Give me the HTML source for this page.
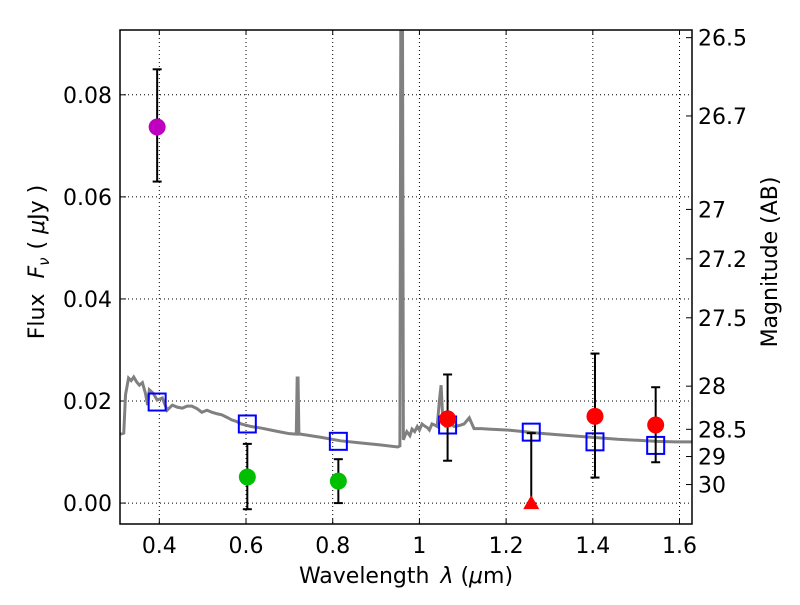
<!DOCTYPE html>
<html><head><meta charset="utf-8"><style>
body{margin:0;background:#fff}
svg text{font-family:"DejaVu Sans","Liberation Sans",sans-serif;fill:#000}
</style></head><body>
<svg id="c" width="800" height="600"></svg>
<script>
const specWave=[0.310,0.318,0.322,0.329,0.335,0.341,0.348,0.354,0.361,0.368,0.373,0.377,0.386,0.395,0.407,0.418,0.430,0.441,0.453,0.464,0.475,0.487,0.498,0.510,0.521,0.533,0.544,0.556,0.567,0.578,0.589,0.612,0.635,0.658,0.681,0.700,0.716,0.718,0.720,0.722,0.726,0.772,0.818,0.863,0.909,0.950,0.955,0.957,0.959,0.961,0.963,0.967,0.971,0.978,0.983,0.989,0.995,1.000,1.006,1.012,1.018,1.023,1.029,1.035,1.041,1.046,1.050,1.053,1.056,1.060,1.070,1.080,1.092,1.103,1.115,1.126,1.143,1.160,1.206,1.240,1.274,1.320,1.366,1.412,1.457,1.503,1.548,1.590,1.630];
const specFlux=[0.0135,0.0137,0.0212,0.0245,0.0240,0.0247,0.0237,0.0231,0.0236,0.0215,0.0192,0.0222,0.0215,0.0202,0.0206,0.0182,0.0192,0.0188,0.0186,0.0190,0.0190,0.0185,0.0178,0.0182,0.0178,0.0175,0.0173,0.0168,0.0163,0.0160,0.0155,0.0150,0.0147,0.0143,0.0139,0.0136,0.0135,0.0245,0.0245,0.0135,0.0135,0.0129,0.0122,0.0118,0.0114,0.0110,0.0112,0.0930,0.0930,0.0930,0.0124,0.0133,0.0140,0.0132,0.0145,0.0140,0.0150,0.0143,0.0155,0.0151,0.0148,0.0143,0.0155,0.0153,0.0150,0.0200,0.0231,0.0180,0.0155,0.0151,0.0158,0.0150,0.0152,0.0155,0.0167,0.0146,0.0146,0.0145,0.0143,0.0140,0.0137,0.0134,0.0131,0.0128,0.0125,0.0123,0.0121,0.0120,0.0120];
const obsWave=[0.395,0.603,0.813,1.065,1.405,1.545];
const obsFlux=[0.0737,0.0051,0.0043,0.0165,0.0170,0.0153];
const obsLo=[0.0630,-0.0012,0.0000,0.0083,0.0050,0.0080];
const obsHi=[0.0850,0.0116,0.0086,0.0252,0.0293,0.0227];
const obsColor=["#bf00bf","#00bf00","#00bf00","#ff0000","#ff0000","#ff0000"];
const limWave=[1.258];const limFlux=[0.0];const limHi=[0.0137];
const modWave=[0.395,0.603,0.813,1.065,1.258,1.405,1.545];
const modFlux=[0.0198,0.0155,0.0121,0.0153,0.0139,0.0120,0.0113];
const xTicks=[0.4,0.6,0.8,1.0,1.2,1.4,1.6];
const xLabels=["0.4","0.6","0.8","1","1.2","1.4","1.6"];
const yTicks=[0,0.02,0.04,0.06,0.08];
const yLabels=["0.00","0.02","0.04","0.06","0.08"];
const magTicks=[26.5,26.7,27,27.2,27.5,28,28.5,29,30];
const magLabels=["26.5","26.7","27","27.2","27.5","28","28.5","29","30"];

const L=120,R=692,T=30,B=524;
const x0=0.3093,x1=1.6288,y0=-0.0041,y1=0.0927;
const X=v=>L+(v-x0)/(x1-x0)*(R-L);
const Y=v=>B-(v-y0)/(y1-y0)*(B-T);
const svg=document.getElementById('c');
const NS='http://www.w3.org/2000/svg';
function mk(t,a,p){const e=document.createElementNS(NS,t);for(const k in a)e.setAttribute(k,a[k]);(p||svg).appendChild(e);return e;}
const clip=mk('clipPath',{id:'cp'});mk('rect',{x:L,y:T,width:R-L,height:B-T},clip);
xTicks.forEach((v,i)=>{
 let g=mk('line',{x1:X(v),x2:X(v),y1:T,y2:B,stroke:'#000','stroke-width':1,'stroke-dasharray':'1,3'});
 
 mk('line',{x1:X(v),x2:X(v),y1:B,y2:B-5,stroke:'#000'});mk('line',{x1:X(v),x2:X(v),y1:T,y2:T+5,stroke:'#000'});
 let t=mk('text',{x:X(v),y:B+29,'text-anchor':'middle','font-size':22});t.textContent=xLabels[i];
 
});
yTicks.forEach((v,i)=>{
 let g=mk('line',{x1:L,x2:R,y1:Y(v),y2:Y(v),stroke:'#000','stroke-width':1,'stroke-dasharray':'1,3'});
 
 mk('line',{x1:L,x2:L+6,y1:Y(v),y2:Y(v),stroke:'#000'});
 let t=mk('text',{x:L-8,y:Y(v)+8,'text-anchor':'end','font-size':22});t.textContent=yLabels[i];
 
});
magTicks.forEach((m,i)=>{
 const f=Math.pow(10,(23.9-m)/2.5);
 mk('line',{x1:R,x2:R-6,y1:Y(f),y2:Y(f),stroke:'#000'});
 let t=mk('text',{x:R+6,y:Y(f)+8,'font-size':22});t.textContent=magLabels[i];
 
});
let sp=mk('polyline',{points:specWave.map((w,i)=>X(w)+','+Y(specFlux[i])).join(' '),fill:'none',stroke:'#808080','stroke-width':3,'clip-path':'url(#cp)'});

function ebar(w,lo,hi){const x=X(w);
 mk('line',{x1:x,x2:x,y1:Y(lo),y2:Y(hi),stroke:'#000','stroke-width':2});
 mk('line',{x1:x-4.5,x2:x+4.5,y1:Y(lo),y2:Y(lo),stroke:'#000','stroke-width':2});
 mk('line',{x1:x-4.5,x2:x+4.5,y1:Y(hi),y2:Y(hi),stroke:'#000','stroke-width':2});}
modWave.forEach((w,i)=>{
 let r=mk('rect',{x:X(w)-8.5,y:Y(modFlux[i])-8.5,width:17,height:17,fill:'none',stroke:'#0000ff','stroke-width':2});
 
});
obsWave.forEach((w,i)=>{
 ebar(w,obsLo[i],obsHi[i]);
 let c=mk('circle',{cx:X(w),cy:Y(obsFlux[i]),r:8.5,fill:obsColor[i]});
 
});
limWave.forEach((w,i)=>{
 ebar(w,limFlux[i],limHi[i]);
 const x=X(w),y=Y(limFlux[i]);
 let p=mk('polygon',{points:`${x},${y-8} ${x-8},${y+6} ${x+8},${y+6}`,fill:'#ff0000'});
 
});
let fr=mk('rect',{x:L,y:T,width:R-L,height:B-T,fill:'none',stroke:'#000','stroke-width':1.5});

let xt=mk('text',{x:406,y:583,'text-anchor':'middle','font-size':22,'xml:space':'preserve'});xt.innerHTML='Wavelength  <tspan font-style="italic" dx="4">λ</tspan> (<tspan font-style="italic">μ</tspan>m)';

let yt=mk('text',{x:0,y:0,'text-anchor':'middle','font-size':22,transform:'translate(44,262) rotate(-90)','xml:space':'preserve'});yt.innerHTML='Flux <tspan font-style="italic" dx="8">F</tspan><tspan font-style="italic" font-size="15" dy="5">ν</tspan><tspan dy="-5" dx="8">( </tspan><tspan font-style="italic">μ</tspan>Jy )';

let mt=mk('text',{x:0,y:0,'text-anchor':'middle','font-size':22,transform:'translate(777,262) rotate(-90)'});mt.textContent='Magnitude (AB)';

</script>
</body></html>
